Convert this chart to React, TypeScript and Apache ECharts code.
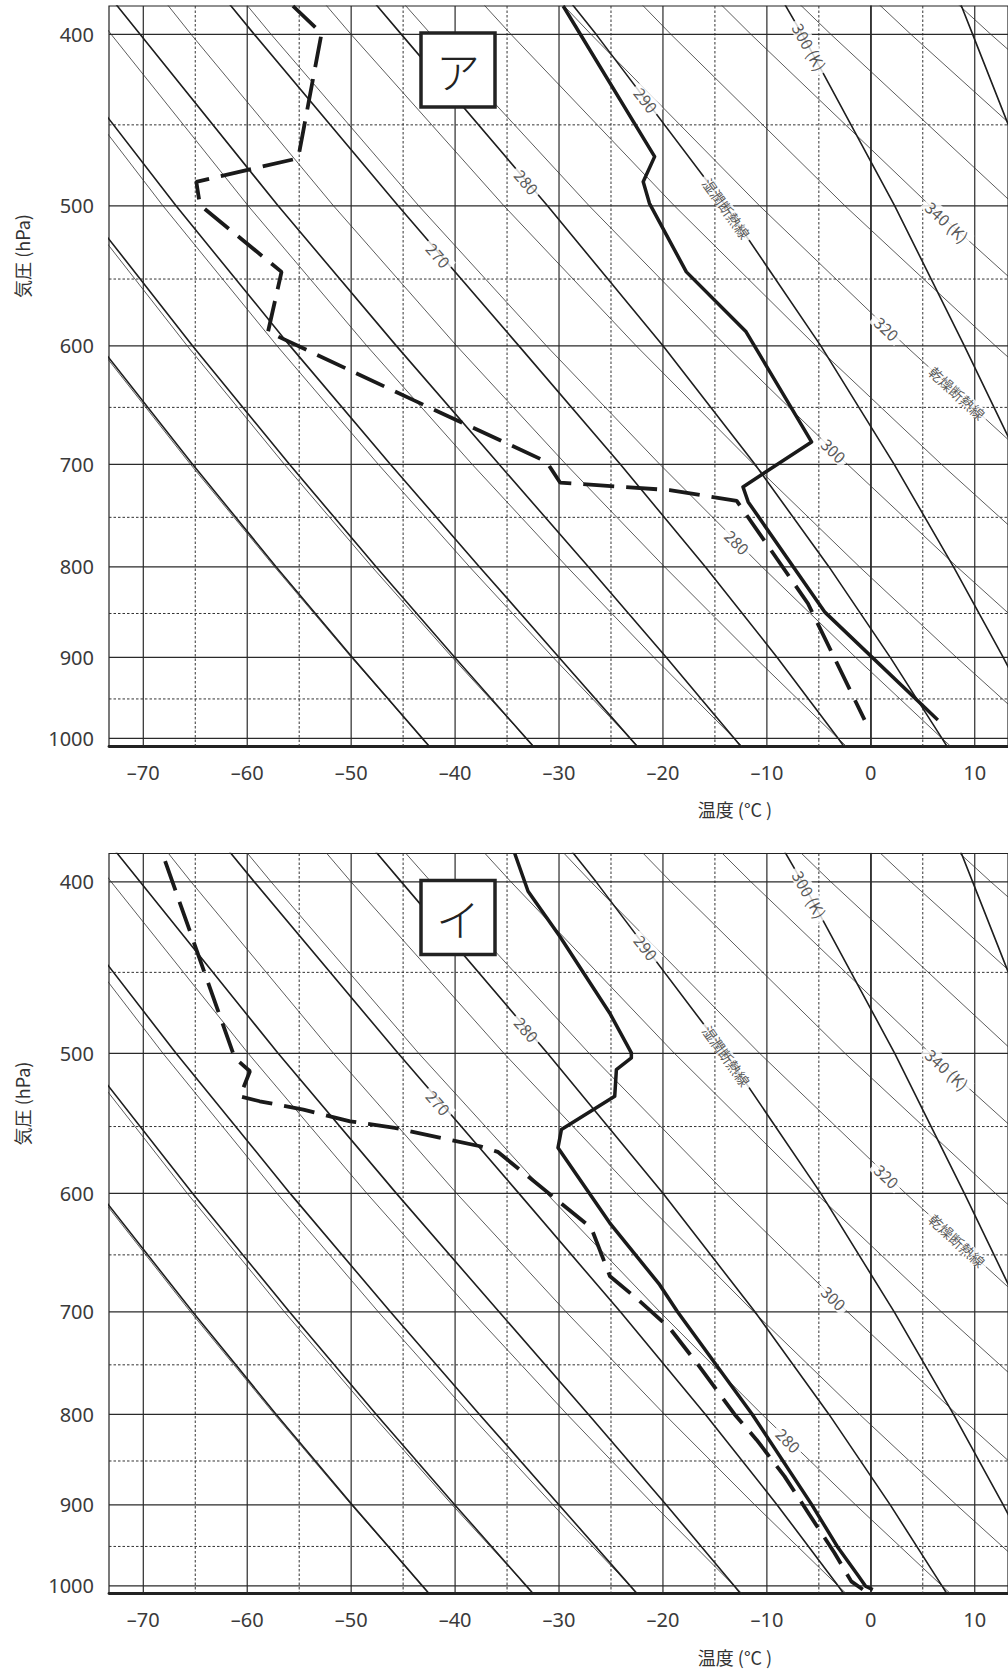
import React, { useEffect, useRef } from 'react';
import * as echarts from 'echarts';

// ---- axis ranges / ticks ----
const T_MIN = -73.3;
const T_MAX = 13.2;
const P_MIN = 385.5;
const P_MAX = 1010;
const TEMP_TICKS = [-70, -60, -50, -40, -30, -20, -10, 0, 10];
const TEMP_MINOR = [-65, -55, -45, -35, -25, -15, -5, 5];
const P_TICKS = [400, 500, 600, 700, 800, 900, 1000];
const P_MINOR = [450, 550, 650, 750, 850, 950];

// ---- adiabats: temperature (°C) at these pressure levels ----
const P_LEVELS = [1010, 1000, 900, 800, 700, 600, 500, 400, 380];

const DRY_THETA = [230, 240, 250, 260, 270, 280, 290, 300, 310, 320, 330, 340, 350, 360, 370];
const DRY_T = [
  [-42.49, -43.15, -49.98, -57.37, -65.46, -74.41, -84.51, -96.17, -98.75],
  [-32.47, -33.15, -40.27, -47.99, -56.43, -65.77, -76.31, -88.48, -91.17],
  [-22.44, -23.15, -30.57, -38.6, -47.39, -57.13, -68.11, -80.78, -83.58],
  [-12.41, -13.15, -20.87, -29.22, -38.36, -48.49, -59.91, -73.09, -76.0],
  [-2.38, -3.15, -11.16, -19.84, -29.33, -39.85, -51.7, -65.4, -68.42],
  [7.65, 6.85, -1.46, -10.46, -20.3, -31.21, -43.5, -57.7, -60.84],
  [17.68, 16.85, 8.24, -1.08, -11.27, -22.57, -35.3, -50.01, -53.25],
  [27.71, 26.85, 17.95, 8.3, -2.24, -13.93, -27.1, -42.31, -45.67],
  [37.73, 36.85, 27.65, 17.69, 6.79, -5.29, -18.9, -34.62, -38.09],
  [47.76, 46.85, 37.35, 27.07, 15.82, 3.35, -10.7, -26.92, -30.51],
  [57.79, 56.85, 47.06, 36.45, 24.85, 11.99, -2.49, -19.23, -22.92],
  [67.82, 66.85, 56.76, 45.83, 33.88, 20.63, 5.71, -11.53, -15.34],
  [77.85, 76.85, 66.46, 55.21, 42.91, 29.27, 13.91, -3.84, -7.76],
  [87.88, 86.85, 76.17, 64.59, 51.94, 37.92, 22.11, 3.86, -0.18],
  [97.9, 96.85, 85.87, 73.98, 60.97, 46.56, 30.31, 11.55, 7.41],
];

const MOIST_THETA = [230, 240, 250, 260, 270, 280, 290, 300, 310];
const MOIST_T = [
  [-42.51, -43.15, -49.88, -57.21, -65.26, -74.22, -84.4, -96.5, -99.0],
  [-32.5, -33.15, -40.02, -47.58, -55.94, -65.25, -75.82, -88.3, -91.2],
  [-22.51, -23.15, -29.99, -37.65, -46.23, -55.88, -66.85, -79.59, -82.4],
  [-12.54, -13.15, -19.67, -27.16, -35.77, -45.65, -57.03, -70.31, -73.35],
  [-2.61, -3.15, -9.01, -15.91, -24.1, -33.86, -45.48, -59.32, -62.43],
  [7.31, 6.85, 1.87, -4.02, -11.15, -19.98, -31.11, -45.17, -48.39],
  [17.23, 16.85, 12.74, 7.96, 2.25, -4.81, -13.96, -26.43, -29.45],
  [27.17, 26.85, 23.3, 19.2, 14.5, 9.0, 2.3, -6.6, -8.8],
  [37.1, 36.85, 33.5, 30.0, 26.0, 21.6, 16.3, 9.8, 8.3],
];

// ---- labels placed on the adiabats (panel ア / panel イ positions) ----
const LABEL_TEXT = ['300 (K)', '290', '280', '270', '湿潤断熱線', '340 (K)', '320', '乾燥断熱線', '300', '280'];
const LABEL_T_A = [-5.9, -21.6, -33.1, -41.6, -13.9, 7.35, 1.55, 8.3, -3.55, -12.85];
const LABEL_P_A = [406.5, 435.7, 484.6, 533.1, 501.7, 510.5, 586.5, 638, 687.4, 774.4];
const LABEL_T_B = [-5.9, -21.6, -33.1, -41.6, -13.9, 7.35, 1.55, 8.3, -3.55, -7.9];
const LABEL_P_B = [406.5, 435.7, 484.6, 533.1, 501.7, 510.5, 586.5, 638, 687.4, 827.2];
const LABEL_ANGLE = [61, 52, 49, 48.5, 54.5, 42.7, 43.2, 42.5, 43.8, 45.2];
const LABEL_SIZE = [16, 16, 16, 16, 14, 16, 16, 14, 16, 16];

// ---- soundings: panel ア ----
const A_TEMP_T = [-29.6, -20.8, -21.9, -21.3, -17.75, -12.0, -5.7, -12.3, -11.8, -4.45, 6.45];
const A_TEMP_P = [385.5, 469, 484.6, 498.4, 544.9, 589.1, 679.9, 720.9, 735.1, 848.2, 976.3];
const A_DEW_T = [-55.6, -52.85, -55.1, -64.9, -64.55, -56.7, -58.0, -44.0, -31.2, -29.9, -19.35, -12.9, -6.05, -0.6];
const A_DEW_P = [385.5, 399.5, 470, 484.6, 499.5, 544.9, 589.1, 643.9, 697.7, 716.8, 723.9, 734.1, 839, 976.3];

// ---- soundings: panel イ ----
const B_TEMP_T = [-34.26, -32.98, -29.93, -25.13, -23.04, -23.04, -24.48, -24.64, -29.77, -30.1, -25.13, -20.32, -18.6, -11.4, -5.67, -3.23, -1.24, -0.5, 0.19];
const B_TEMP_P = [385.5, 404.9, 429.3, 474.4, 499.7, 503, 510.7, 528.8, 552.2, 565.4, 623.4, 675.7, 700, 800, 900, 950, 986.3, 1000.5, 1005];
const B_DEW_T = [-67.9, -61.2, -59.74, -60.7, -58.8, -54.6, -50.1, -45.8, -37.6, -35.9, -26.9, -25.1, -22.56, -19.36, -16.63, -13.1, -11.0, -8.3, -5.9, -3.49, -1.88, -0.77];
const B_DEW_P = [389.4, 503, 511.8, 528.8, 532.2, 538.0, 546.3, 551.0, 564.3, 568.4, 627.5, 668.4, 687.7, 714.9, 749.8, 800, 826.7, 867.2, 911.6, 958.1, 994.2, 1004.7];

const FONT = "'Noto Sans CJK JP', 'Noto Sans', sans-serif";
const NUM_FONT = "'Noto Sans', 'Open Sans', sans-serif";
const PANEL_TOPS = [6, 853.5];
const PANEL_NAMES = ['ア', 'イ'];

function zip(ts: number[], ps: number[]) {
  return ts.map((t, k) => [t, ps[k]]);
}

function panelSeries(idx: number, temp: number[][], dew: number[][], labT: number[], labP: number[]) {
  const base: any = {
    type: 'line',
    xAxisIndex: idx,
    yAxisIndex: idx,
    symbol: 'none',
    showSymbol: false,
    silent: true,
    animation: false,
    clip: true,
  };
  const s: any[] = [];
  TEMP_TICKS.forEach((t) =>
    s.push({ ...base, z: 1, data: [[t, P_MIN], [t, P_MAX]], lineStyle: { color: '#2a2a2a', width: 1.2 } })
  );
  TEMP_MINOR.forEach((t) =>
    s.push({ ...base, z: 1, data: [[t, P_MIN], [t, P_MAX]], lineStyle: { color: '#333', width: 1, type: [2.5, 2] } })
  );
  P_TICKS.forEach((p) =>
    s.push({ ...base, z: 1, data: [[T_MIN, p], [T_MAX, p]], lineStyle: { color: '#2a2a2a', width: 1.2 } })
  );
  P_MINOR.forEach((p) =>
    s.push({ ...base, z: 1, data: [[T_MIN, p], [T_MAX, p]], lineStyle: { color: '#333', width: 1, type: [2.5, 2] } })
  );
  DRY_THETA.forEach((_th, k) =>
    s.push({ ...base, z: 2, data: zip(DRY_T[k], P_LEVELS), lineStyle: { color: '#333', width: 0.8 } })
  );
  MOIST_THETA.forEach((_th, k) =>
    s.push({ ...base, z: 2, data: zip(MOIST_T[k], P_LEVELS), lineStyle: { color: '#1e1e1e', width: 1.6 } })
  );
  s.push({
    type: 'scatter',
    xAxisIndex: idx,
    yAxisIndex: idx,
    z: 3,
    silent: true,
    clip: false,
    animation: false,
    symbolSize: 1,
    itemStyle: { color: 'rgba(0,0,0,0)' },
    label: {
      show: true,
      position: 'inside',
      color: '#2e2e2e',
      backgroundColor: '#fff',
      padding: [0, 4],
      fontFamily: FONT,
    },
    data: LABEL_TEXT.map((txt, k) => ({
      value: [labT[k], labP[k]],
      label: { show: true, formatter: txt, rotate: -LABEL_ANGLE[k], fontSize: LABEL_SIZE[k] },
    })),
  });
  s.push({ ...base, z: 4, data: temp, lineStyle: { color: '#1a1a1a', width: 3.5, join: 'round' } });
  s.push({ ...base, z: 4, data: dew, lineStyle: { color: '#1a1a1a', width: 3.8, type: [31, 12], cap: 'butt' } });
  return s;
}

function buildOption() {
  const grids = PANEL_TOPS.map((top) => ({
    left: 109,
    top,
    width: 899,
    height: 740,
    show: true,
    borderColor: '#222',
    borderWidth: 1.2,
    backgroundColor: 'transparent',
  }));
  const xAxes = PANEL_TOPS.map((_t, i) => ({
    type: 'value',
    gridIndex: i,
    min: T_MIN,
    max: T_MAX,
    axisLine: { show: true, onZero: false, lineStyle: { color: '#222', width: 2.8 } },
    axisTick: { show: false },
    splitLine: { show: false },
    axisLabel: {
      customValues: TEMP_TICKS,
      margin: 16,
      fontSize: 20,
      fontWeight: 'normal',
      color: '#3a3a3a',
      fontFamily: NUM_FONT,
      formatter: (v: number) => (v < 0 ? '–' + Math.abs(v) : String(v)),
    },
  }));
  const yAxes = PANEL_TOPS.map((_t, i) => ({
    type: 'log',
    logBase: 10,
    gridIndex: i,
    min: P_MIN,
    max: P_MAX,
    inverse: true,
    axisLine: { show: true, lineStyle: { color: '#222', width: 1.5 } },
    axisTick: { show: false },
    splitLine: { show: false },
    axisLabel: {
      customValues: P_TICKS,
      margin: 15,
      fontSize: 20,
      fontWeight: 'normal',
      color: '#3a3a3a',
      fontFamily: NUM_FONT,
      formatter: (v: number) => String(Math.round(v)),
    },
  }));
  const series = [
    ...panelSeries(0, zip(A_TEMP_T, A_TEMP_P), zip(A_DEW_T, A_DEW_P), LABEL_T_A, LABEL_P_A),
    ...panelSeries(1, zip(B_TEMP_T, B_TEMP_P), zip(B_DEW_T, B_DEW_P), LABEL_T_B, LABEL_P_B),
  ];
  const graphic: any[] = [];
  PANEL_TOPS.forEach((top, i) => {
    const dy = top - 6;
    graphic.push({
      type: 'rect',
      x: 421,
      y: 33 + dy,
      shape: { width: 74, height: 74 },
      style: { fill: '#fff', stroke: '#222', lineWidth: 3.5 },
      z: 100,
      silent: true,
    });
    graphic.push({
      type: 'text',
      x: 458,
      y: 70 + dy,
      z: 101,
      silent: true,
      style: {
        text: PANEL_NAMES[i],
        fontSize: 44,
        fontWeight: 300,
        fontFamily: FONT,
        fill: '#222',
        align: 'center',
        verticalAlign: 'middle',
        textAlign: 'center',
        textVerticalAlign: 'middle',
      },
    });
    graphic.push({
      type: 'text',
      x: 22,
      y: 256 + dy,
      rotation: Math.PI / 2,
      z: 101,
      silent: true,
      style: {
        text: '気圧 (hPa)',
        fontSize: 18,
        fontFamily: FONT,
        fill: '#333',
        align: 'center',
        verticalAlign: 'middle',
        textAlign: 'center',
        textVerticalAlign: 'middle',
      },
    });
    graphic.push({
      type: 'text',
      x: 735,
      y: 809 + dy,
      z: 101,
      silent: true,
      style: {
        text: '温度 (°C )',
        fontSize: 18,
        fontFamily: FONT,
        fill: '#333',
        align: 'center',
        verticalAlign: 'middle',
        textAlign: 'center',
        textVerticalAlign: 'middle',
      },
    });
  });
  return {
    animation: false,
    backgroundColor: '#fff',
    grid: grids,
    xAxis: xAxes,
    yAxis: yAxes,
    series,
    graphic,
  };
}

export default function App() {
  const ref = useRef<HTMLDivElement>(null);
  useEffect(() => {
    if (!ref.current) return;
    const chart = echarts.init(ref.current, null, { renderer: 'svg' });
    chart.setOption(buildOption() as any);
    return () => chart.dispose();
  }, []);
  return (
    <div
      ref={ref}
      style={{ position: 'absolute', left: 0, top: 0, width: 1008, height: 1671, background: '#fff' }}
    />
  );
}
